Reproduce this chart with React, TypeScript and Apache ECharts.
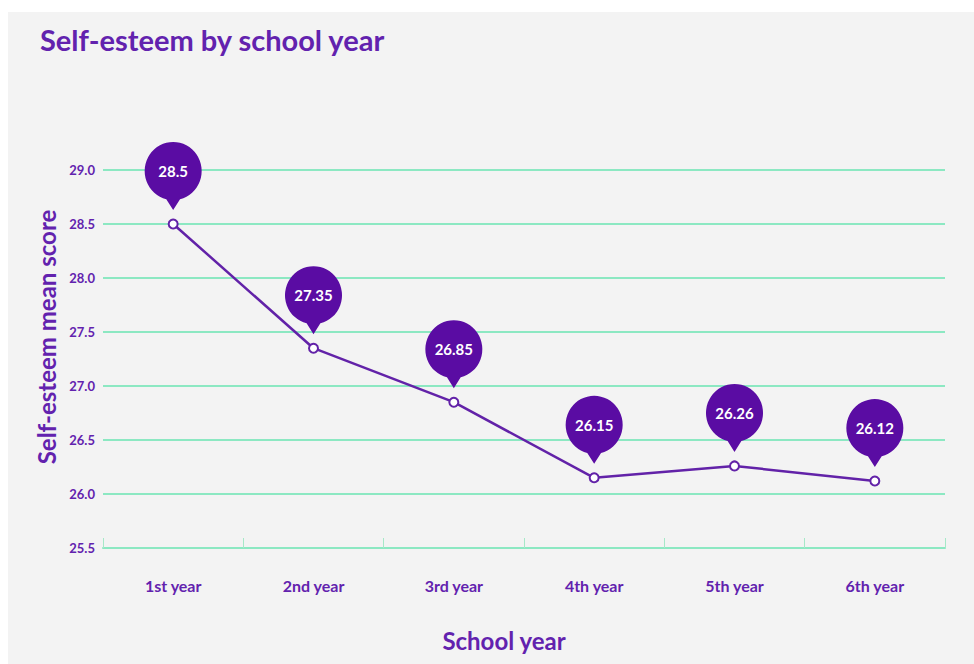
import React, { useEffect, useRef } from "react";
import * as echarts from "echarts";

const categories = ["1st year", "2nd year", "3rd year", "4th year", "5th year", "6th year"];
const meanScores = [28.5, 27.35, 26.85, 26.15, 26.26, 26.12];
const yTicks = { min: 25.5, max: 29.0, interval: 0.5 };
const titleText = "Self-esteem by school year";
const xAxisName = "School year";
const yAxisName = "Self-esteem mean score";

const PURPLE = "#5a0ca3";
const LINE_PURPLE = "#6222a8";
const TEXT_PURPLE = "#6222ae";
const GREEN = "#8ce8c2";
const FONT = "Lato, 'Open Sans', sans-serif";

const pinPath = "path://M29 68L22 57.14A29 29 0 1 1 36 57.14Z";

export default function App() {
  const ref = useRef<HTMLDivElement>(null);
  useEffect(() => {
    if (!ref.current) return;
    const chart = echarts.init(ref.current, null, { renderer: "svg" });
    chart.setOption({
      animation: false,
      backgroundColor: "#f3f3f3",
      title: {
        text: titleText,
        left: 27,
        top: 8,
        textStyle: { color: TEXT_PURPLE, fontSize: 29, fontWeight: "bold", fontFamily: FONT },
      },
      grid: { left: 95, right: 29, top: 158, bottom: 116 },
      xAxis: {
        type: "category",
        data: categories,
        boundaryGap: true,
        name: xAxisName,
        nameLocation: "middle",
        nameGap: 80,
        nameTextStyle: {
          color: TEXT_PURPLE,
          fontSize: 24,
          fontWeight: "bold",
          fontFamily: FONT,
          padding: [0, 40, 0, 0],
        },
        axisLine: { lineStyle: { color: GREEN, width: 2 } },
        axisTick: { show: true, inside: true, length: 10, lineStyle: { color: "#a6e8c8", width: 1 } },
        axisLabel: { color: TEXT_PURPLE, fontSize: 16, fontWeight: "bold", margin: 29, fontFamily: FONT },
      },
      yAxis: {
        type: "value",
        min: yTicks.min,
        max: yTicks.max,
        interval: yTicks.interval,
        name: yAxisName,
        nameLocation: "middle",
        nameGap: 42,
        nameTextStyle: {
          color: TEXT_PURPLE,
          fontSize: 24,
          fontWeight: "bold",
          fontFamily: FONT,
          padding: [0, 0, 0, 44],
        },
        axisLine: { show: false },
        axisTick: { show: false },
        axisLabel: {
          color: TEXT_PURPLE,
          fontSize: 13,
          fontWeight: "bold",
          margin: 8,
          fontFamily: FONT,
          formatter: (v: number) => v.toFixed(1),
        },
        splitLine: { lineStyle: { color: GREEN, width: 2 } },
      },
      series: [
        {
          type: "line",
          data: meanScores,
          symbol: "emptyCircle",
          symbolSize: 9,
          lineStyle: { color: LINE_PURPLE, width: 2.5 },
          itemStyle: { color: LINE_PURPLE, borderColor: LINE_PURPLE, borderWidth: 2 },
          z: 3,
        },
        {
          type: "scatter",
          data: meanScores,
          symbol: pinPath,
          symbolSize: [57, 68],
          symbolOffset: [0, -48],
          itemStyle: { color: PURPLE, opacity: 1 },
          label: {
            show: true,
            position: "inside",
            offset: [0, -5],
            color: "#ffffff",
            fontSize: 15,
            fontWeight: "bold",
            fontFamily: FONT,
            formatter: (p: any) => String(p.value),
          },
          z: 4,
        },
      ],
    });
    return () => chart.dispose();
  }, []);
  return (
    <div
      ref={ref}
      style={{ position: "absolute", left: 8, top: 12, width: 966, height: 652 }}
    />
  );
}
